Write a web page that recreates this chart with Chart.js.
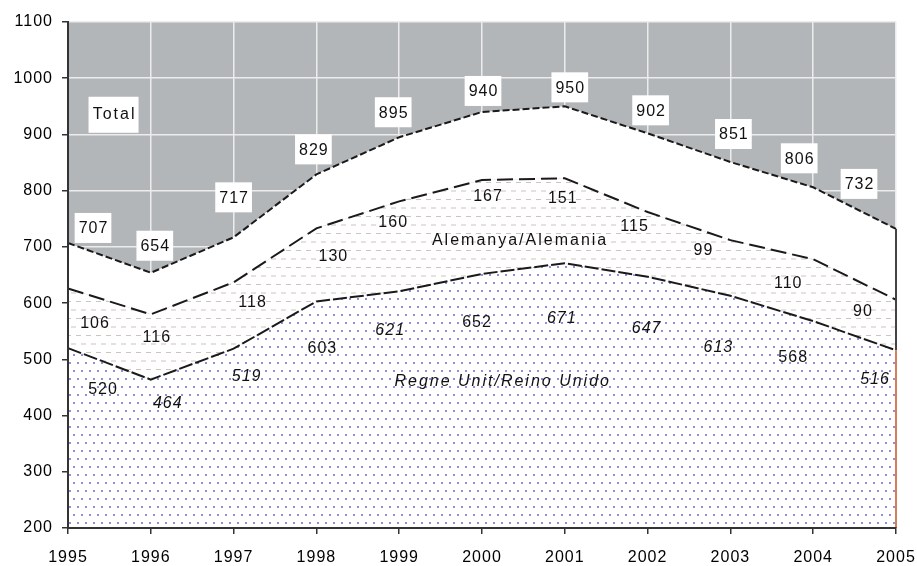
<!DOCTYPE html>
<html><head><meta charset="utf-8">
<script src="https://cdn.jsdelivr.net/npm/chart.js@4.4.1/dist/chart.umd.min.js"></script>
<style>html,body{margin:0;padding:0;background:#fff;}</style>
</head><body>
<canvas id="c" width="917" height="566"></canvas>
<script>
const years = ['1995','1996','1997','1998','1999','2000','2001','2002','2003','2004','2005'];
const total = [707, 654, 717, 829, 895, 940, 950, 902, 851, 806, 732];
const germany = [106, 116, 118, 130, 160, 167, 151, 115, 99, 110, 90];
const uk = [520, 464, 519, 603, 621, 652, 671, 647, 613, 568, 516];
const yMin = 200, yMax = 1100, yStep = 100;
const nameTotal = 'Total';
const nameGermany = 'Alemanya/Alemania';
const nameUK = 'Regne Unit/Reino Unido';

// label nudges in pixels (layout only)
const totalNudge = [[25,-15],[4,-27],[0,-40],[-3,-25],[-6,-25],[1,-21],[5,-19],[3,-23],[3,-28],[-14,-29],[-37,-45]];
const germanyNudge = [[27,35],[6,23],[19,20],[17,28],[-6,21],[6,17],[-2,20],[-13,15],[-27,10],[-25,24],[-33,12]];
const ukNudge = [[35,42],[17,24],[13,28],[6,47],[-9,39],[-5,49],[-3,55],[-1,52],[-12,52],[-20,36],[-21,29]];
const ukItalic = [false,true,true,false,true,false,true,true,true,false,true];

const germanyTop = uk.map((v, i) => v + germany[i]);

function makePattern(w, h, draw) {
  const c = document.createElement('canvas');
  c.width = w; c.height = h;
  const x = c.getContext('2d');
  x.fillStyle = '#ffffff';
  x.fillRect(0, 0, w, h);
  draw(x);
  return x.createPattern(c, 'repeat');
}
const dotPat = makePattern(16, 16, x => {
  x.fillStyle = '#8d92d4';
  [[1, 2], [9, 2], [5, 10], [13, 10]].forEach(p => x.fillRect(p[0], p[1], 2, 2));
});
const dashPat = makePattern(20, 17, x => {
  x.strokeStyle = '#cdc4bd';
  x.lineWidth = 1.2;
  x.beginPath();
  x.moveTo(1, 4); x.lineTo(6, 4); x.moveTo(11, 4); x.lineTo(16, 4);
  x.moveTo(6, 12.5); x.lineTo(11, 12.5); x.moveTo(16, 12.5); x.lineTo(20, 12.5); x.moveTo(0, 12.5); x.lineTo(1, 12.5);
  x.stroke();
});

const FONT = '"Liberation Sans", Arial, sans-serif';

const bgPlugin = {
  id: 'bg',
  beforeDraw(chart) {
    const { ctx, chartArea: a } = chart;
    ctx.letterSpacing = '1px';
    ctx.save();
    ctx.fillStyle = '#ffffff';
    ctx.fillRect(0, 0, chart.width, chart.height);
    ctx.fillStyle = '#b3b6b9';
    ctx.fillRect(a.left, a.top, a.right - a.left, a.bottom - a.top);
    ctx.restore();
  }
};

const labelPlugin = {
  id: 'labels',
  afterDatasetsDraw(chart) {
    const { ctx } = chart;
    const xs = chart.scales.x, ys = chart.scales.y;
    const n = years.length;
    ctx.save();
    // right edge lines
    const xr = xs.getPixelForValue(n - 1);
    ctx.lineWidth = 2;
    ctx.strokeStyle = '#444';
    ctx.beginPath();
    ctx.moveTo(xr, ys.getPixelForValue(total[n - 1]));
    ctx.lineTo(xr, ys.getPixelForValue(uk[n - 1]));
    ctx.stroke();
    ctx.strokeStyle = '#d0805c';
    ctx.beginPath();
    ctx.moveTo(xr, ys.getPixelForValue(uk[n - 1]));
    ctx.lineTo(xr, ys.getPixelForValue(yMin));
    ctx.stroke();

    ctx.textAlign = 'center';
    ctx.textBaseline = 'middle';
    ctx.letterSpacing = '1px';
    ctx.font = '16px ' + FONT;
    // total labels with white boxes
    total.forEach((v, i) => {
      const x = xs.getPixelForValue(i) + totalNudge[i][0];
      const y = ys.getPixelForValue(v) + totalNudge[i][1];
      const t = String(v);
      const w = ctx.measureText(t).width + 7;
      ctx.fillStyle = '#ffffff';
      ctx.fillRect(x - w / 2, y - 15, w, 30);
      ctx.fillStyle = '#111';
      ctx.fillText(t, x + 0.5, y + 1);
    });
    // germany labels
    ctx.fillStyle = '#111';
    germany.forEach((v, i) => {
      const x = xs.getPixelForValue(i) + germanyNudge[i][0];
      const y = ys.getPixelForValue(germanyTop[i]) + germanyNudge[i][1];
      ctx.fillText(String(v), x, y);
    });
    // uk labels
    uk.forEach((v, i) => {
      ctx.font = (ukItalic[i] ? 'italic ' : '') + '16px ' + FONT;
      const x = xs.getPixelForValue(i) + ukNudge[i][0];
      const y = ys.getPixelForValue(v) + ukNudge[i][1];
      ctx.fillText(String(v), x, y);
    });
    // series names
    ctx.letterSpacing = '2px';
    ctx.font = '16px ' + FONT;
    const tx = xs.getPixelForValue(0.55), ty = ys.getPixelForValue(935);
    ctx.fillStyle = '#ffffff';
    ctx.fillRect(tx - 25, ty - 18, 50, 36);
    ctx.fillStyle = '#111';
    ctx.fillText(nameTotal, tx + 1, ty);
    ctx.fillText(nameGermany, xs.getPixelForValue(5.46), ys.getPixelForValue(712));
    ctx.font = 'italic 16px ' + FONT;
    ctx.fillText(nameUK, xs.getPixelForValue(5.25), ys.getPixelForValue(461));
    ctx.restore();
  }
};

const yTicks = [];
for (let v = yMin; v <= yMax; v += yStep) yTicks.push(v);

new Chart(document.getElementById('c').getContext('2d'), {
  type: 'line',
  data: {
    labels: years,
    datasets: [
      { label: nameUK, data: uk, fill: 'start', backgroundColor: dotPat, borderColor: '#1a1a1a', borderWidth: 2, borderDash: [14, 3], pointRadius: 0, tension: 0 },
      { label: nameGermany, data: germanyTop, fill: '-1', backgroundColor: dashPat, borderColor: '#1a1a1a', borderWidth: 2, borderDash: [16, 6], pointRadius: 0, tension: 0 },
      { label: nameTotal, data: total, fill: '-1', backgroundColor: '#ffffff', borderColor: '#1a1a1a', borderWidth: 2, borderDash: [7, 3], pointRadius: 0, tension: 0 }
    ]
  },
  options: {
    responsive: false,
    animation: false,
    layout: { padding: { top: 22, right: 21, left: 0, bottom: 0 } },
    plugins: { legend: { display: false }, tooltip: { enabled: false } },
    scales: {
      x: {
        offset: false,
        grid: { color: '#ececec', lineWidth: 1.5, tickColor: '#333', tickLength: 6 },
        border: { color: '#333', width: 2, z: 1 },
        ticks: { color: '#000', font: { family: FONT, size: 16 }, padding: 14, maxRotation: 0, autoSkip: false },
        afterFit: s => { s.height = 38; s.paddingLeft = 0; s.paddingRight = 0; }
      },
      y: {
        min: yMin, max: yMax,
        afterBuildTicks: s => { s.ticks = yTicks.map(v => ({ value: v })); },
        grid: { color: '#ececec', lineWidth: 1.5, tickColor: '#333', tickLength: 6 },
        border: { color: '#333', width: 2, z: 1 },
        ticks: { color: '#000', font: { family: FONT, size: 16 }, padding: 9, callback: v => String(v) },
        afterFit: s => { s.width = 68; s.paddingTop = 0; s.paddingBottom = 0; }
      }
    }
  },
  plugins: [bgPlugin, labelPlugin]
});
</script>
</body></html>
